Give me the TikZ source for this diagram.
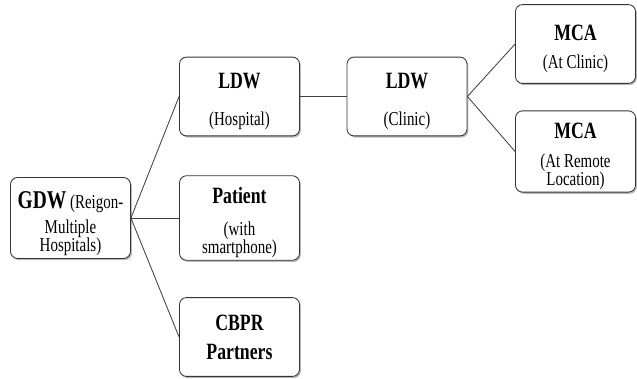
\documentclass[tikz,border=0pt]{standalone}
\usepackage{fontspec}
\setmainfont[FakeStretch=0.76]{Liberation Serif}
\usetikzlibrary{shadows}
\newcommand\boxfont{\fontsize{14}{12.8}\selectfont\lineskiplimit=0pt\lineskip=0pt\relax}

\begin{document}
\begin{tikzpicture}[
  x=0.025cm, y=-0.025cm,
  font=\boxfont,
  box/.style={draw=black!80, fill=white, rounded corners=5pt, semithick,
              text=black, minimum width=3cm, minimum height=1.97cm,
              align=center, inner sep=2pt,
              drop shadow={shadow xshift=1pt, shadow yshift=-1.2pt,
                           fill=black!45, opacity=0.6}},
  link/.style={semithick, black!75},
]
  \def\hd#1{{\fontsize{16.6}{12.8}\selectfont\bfseries #1}}
  \def\hdtop#1{\rule{0pt}{18pt}\hd{#1}}

  % --- page frame ---
  \useasboundingbox (0,0) rectangle (637,379);

  % --- boxes ---
  \node[box] (gdw) at (70.5,218) {\rule{0pt}{20pt}{\fontsize{18.2}{12.8}\selectfont\bfseries GDW} (Reigon-\\[5pt]Multiple\\Hospitals)};
  \node[box] (ldwh) at (239.5,96.5) {\hdtop{LDW}\\[13.2pt](Hospital)};
  \node[box] (patient) at (239.5,218) {\hdtop{Patient}\\[9.5pt](with\\smartphone)};
  \node[box] (cbpr) at (239.5,337) {\hd{CBPR}\\[7.8pt]\hd{Partners}};
  \node[box] (ldwc) at (407,96.5) {\hdtop{LDW}\\[13.2pt](Clinic)};
  \node[box] (mcac) at (575.5,44) {\hdtop{MCA}\\[7.2pt](At Clinic)};
  \node[box] (mcar) at (575.5,151.5) {\hdtop{MCA}\\[7.2pt](At Remote\\Location)};

  % --- links ---
  \draw[link] (gdw.east) -- (ldwh.west);
  \draw[link] (gdw.east) -- (patient.west);
  \draw[link] (gdw.east) -- (cbpr.west);
  \draw[link] (ldwh.east) -- (ldwc.west);
  \draw[link] (ldwc.east) -- (mcac.west);
  \draw[link] (ldwc.east) -- (mcar.west);

\end{tikzpicture}
\end{document}
